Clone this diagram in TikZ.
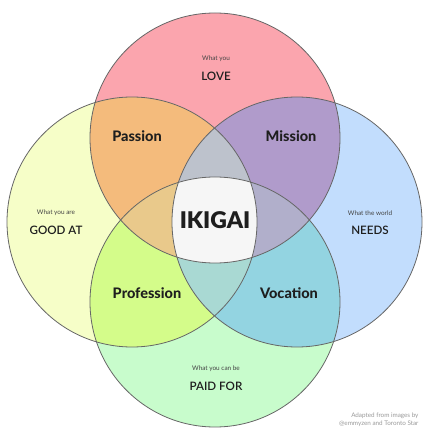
\documentclass[tikz,border=0pt]{standalone}
\usepackage{fontspec}
\setmainfont{Lato}
\newfontfamily\latoheavy{Lato Heavy}
\newfontfamily\latoblack{Lato Black}
\newfontfamily\latosemi{Lato Semibold}
\definecolor{cT}{HTML}{FBA5AE}
\definecolor{cL}{HTML}{F6FEC8}
\definecolor{cR}{HTML}{C2DDFD}
\definecolor{cB}{HTML}{C8FCCC}
\definecolor{cTL}{HTML}{F4BB7C}
\definecolor{cTR}{HTML}{B09BCB}
\definecolor{cLB}{HTML}{D4FC8A}
\definecolor{cRB}{HTML}{93D4E1}
\definecolor{cTLR}{HTML}{BDC2CC}
\definecolor{cLRB}{HTML}{A9D9D3}
\definecolor{cTLB}{HTML}{E9C98B}
\definecolor{cTRB}{HTML}{B1AFCB}
\definecolor{cC}{HTML}{F6F6F6}
\definecolor{ink}{HTML}{1E1E1E}
\definecolor{soft}{HTML}{444444}
\definecolor{credit}{HTML}{9A9A9A}
\begin{document}
\begin{tikzpicture}[x=1pt,y=-1pt,
  ring/.style={draw=black!60,line width=0.8pt},
  small/.style={font=\fontsize{6.4}{8}\selectfont,text=soft},
  big/.style={font=\latosemi\fontsize{11.6}{13}\selectfont,text=ink},
  pair/.style={font=\latoheavy\fontsize{14.5}{16}\selectfont,text=ink},
  creditstyle/.style={font=\fontsize{6.3}{7}\selectfont,text=credit,align=right,anchor=east}]
\useasboundingbox (0,0) rectangle (440,433);
\fill[white] (0,0) rectangle (440,433);
\def\rr{125pt}
\coordinate (T) at (215,138);
\coordinate (B) at (215,302);
\coordinate (L) at (132,222);
\coordinate (R) at (297,222);
% base circles
\fill[cT] (T) circle[radius=\rr];
\fill[cL] (L) circle[radius=\rr];
\fill[cR] (R) circle[radius=\rr];
\fill[cB] (B) circle[radius=\rr];
% pairs
\begin{scope}\clip (T) circle[radius=\rr]; \fill[cTL] (L) circle[radius=\rr];\end{scope}
\begin{scope}\clip (T) circle[radius=\rr]; \fill[cTR] (R) circle[radius=\rr];\end{scope}
\begin{scope}\clip (B) circle[radius=\rr]; \fill[cLB] (L) circle[radius=\rr];\end{scope}
\begin{scope}\clip (B) circle[radius=\rr]; \fill[cRB] (R) circle[radius=\rr];\end{scope}
% triples
\begin{scope}\clip (T) circle[radius=\rr]; \clip (L) circle[radius=\rr]; \fill[cTLR] (R) circle[radius=\rr];\end{scope}
\begin{scope}\clip (B) circle[radius=\rr]; \clip (L) circle[radius=\rr]; \fill[cLRB] (R) circle[radius=\rr];\end{scope}
\begin{scope}\clip (T) circle[radius=\rr]; \clip (L) circle[radius=\rr]; \fill[cTLB] (B) circle[radius=\rr];\end{scope}
\begin{scope}\clip (T) circle[radius=\rr]; \clip (R) circle[radius=\rr]; \fill[cTRB] (B) circle[radius=\rr];\end{scope}
% center
\begin{scope}\clip (T) circle[radius=\rr]; \clip (L) circle[radius=\rr]; \clip (R) circle[radius=\rr]; \fill[cC] (B) circle[radius=\rr];\end{scope}
% outlines
\draw[ring] (T) circle[radius=\rr];
\draw[ring] (L) circle[radius=\rr];
\draw[ring] (R) circle[radius=\rr];
\draw[ring] (B) circle[radius=\rr];
% labels
\node[small] (tsub) at (216,59) {What you};
\node[big] (tmain) at (216,76) {LOVE};
\node[small] (lsub) at (56,213) {What you are};
\node[big] (lmain) at (56,230) {GOOD AT};
\node[small] (rsub) at (370,213) {What the world};
\node[big] (rmain) at (370,230) {NEEDS};
\node[small] (bsub) at (216,369) {What you can be};
\node[big] (bmain) at (216,386) {PAID FOR};
\node[pair] (passion) at (137,136) {Passion};
\node[pair] (mission) at (291,136) {Mission};
\node[pair] (profession) at (147,293) {Profession};
\node[pair] (vocation) at (289,293) {Vocation};
\node[font=\latoblack\fontsize{23}{26}\selectfont,text=ink] (ikigai) at (215,220) {IKIGAI};
\node[creditstyle] (credit1) at (422,416) {Adapted from images by};
\node[creditstyle] (credit2) at (422,424) {@emmyzen and Toronto Star};
\end{tikzpicture}
\end{document}
